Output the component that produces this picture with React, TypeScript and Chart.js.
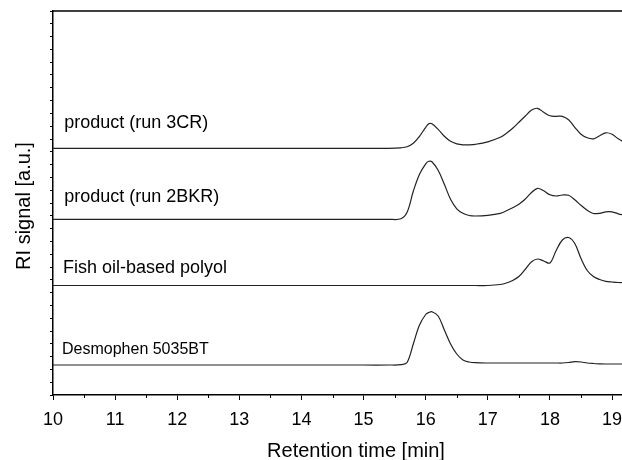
import { useEffect, useRef } from "react";
import { Chart, registerables } from "chart.js";

Chart.register(...registerables);

const FONT = "'Liberation Sans', Arial, Helvetica, sans-serif";

// Retention time grid (min) shared by all chromatograms
const retentionTimes = [
  10, 11, 12, 13, 14, 15, 15.4, 15.6, 15.7, 15.8, 15.9, 16.0, 16.05, 16.1, 16.2,
  16.3, 16.4, 16.5, 16.6, 16.7, 16.8, 17.0, 17.2, 17.3, 17.4, 17.5, 17.6, 17.7,
  17.8, 17.9, 18.0, 18.1, 18.2, 18.3, 18.4, 18.5, 18.6, 18.7, 18.8, 18.9, 19.0,
  19.1, 19.2,
];

// RI signal above each trace's own baseline (a.u.)
const run3CR = [
  0, 0, 0, 0, 0, 0, 0, 0.5, 1.5, 5, 12, 21, 24.5, 24.5, 19, 12, 7, 4.5, 3.5, 3.5,
  4, 6.5, 11, 15, 20, 26, 32, 38, 40, 36, 32.5, 32, 32, 28.5, 21, 14, 10.5, 9.5,
  12.5, 15.5, 14, 9.5, 6,
];
const run2BKR = [
  0, 0, 0, 0, 0, 0, 0, 0.5, 7, 28, 45, 55.5, 58, 57.5, 49, 35, 20, 10.5, 6, 3.8,
  3.3, 4, 6, 8.5, 11.5, 15, 20, 26.5, 31, 28.5, 24.5, 23.3, 24.3, 24, 19.5, 14, 9,
  5.8, 6, 7.5, 7.5, 5.5, 4,
];
const fishOilPolyol = [
  0, 0, 0, 0, 0, 0, 0, 0, 0, 0, 0, 0, 0, 0, 0, 0, 0, 0, 0, 0, 0, 0, 1, 2.5, 5, 9,
  16, 23.5, 26.5, 24.5, 22.5, 35, 45.5, 48, 42, 27, 15, 9, 6, 4.2, 3.5, 3, 3,
];
const desmophen = [
  0, 0, 0, 0, 0, 0, 0, 0.3, 2.5, 21, 40, 50.5, 52.5, 53.3, 49, 35, 21, 11, 5, 3,
  2.3, 2, 2, 2, 2, 2, 2, 2, 2, 2, 2, 2, 2, 2.5, 3.3, 3, 2, 1.5, 1.2, 1, 1, 1, 1,
];

// Vertical stacking offsets of the traces (a.u.)
const traceNames = ["product (run 3CR)", "product (run 2BKR)", "Fish oil-based polyol", "Desmophen 5035BT"];
const traceSignals = [run3CR, run2BKR, fishOilPolyol, desmophen];
const traceBaselines = [246.7, 175.7, 109.5, 30];

// Trace labels: anchor in data units (retention time, signal)
const labelTimes = [10.18, 10.18, 10.16, 10.145];
const labelSignals = [266.7, 193.3, 121.7, 41];
const labelSizes = [18, 18, 18, 16];

const xMajorTicks = [10, 11, 12, 13, 14, 15, 16, 17, 18, 19];
const xMinorTicks = [10.5, 11.5, 12.5, 13.5, 14.5, 15.5, 16.5, 17.5, 18.5];
const xRange = [10, 19.16];
const yRange = [0, 384];
const yTickStep = 12.8;

const decorations = {
  id: "decorations",
  afterDraw(chart: any) {
    const { ctx, chartArea, scales } = chart;
    const xs = scales.x;
    const ys = scales.y;
    ctx.save();
    ctx.strokeStyle = "#000";
    ctx.lineWidth = 1;
    ctx.beginPath();
    for (const v of xMinorTicks) {
      const px = Math.round(xs.getPixelForValue(v)) + 0.5;
      ctx.moveTo(px, chartArea.bottom);
      ctx.lineTo(px, chartArea.bottom + 3);
    }
    ctx.stroke();

    ctx.lineWidth = 1.5;
    ctx.beginPath();
    ctx.moveTo(chartArea.left, chartArea.top);
    ctx.lineTo(chartArea.right, chartArea.top);
    ctx.stroke();

    ctx.fillStyle = "#000";
    ctx.textAlign = "left";
    ctx.textBaseline = "alphabetic";
    traceNames.forEach((name, i) => {
      ctx.font = `${labelSizes[i]}px ${FONT}`;
      ctx.fillText(name, xs.getPixelForValue(labelTimes[i]), ys.getPixelForValue(labelSignals[i]));
    });

    ctx.font = `20px ${FONT}`;
    ctx.textAlign = "center";
    ctx.fillText("Retention time [min]", 356, 456.5);
    ctx.translate(29.5, 206);
    ctx.rotate(-Math.PI / 2);
    ctx.fillText("RI signal [a.u.]", 0, 0);
    ctx.restore();
  },
};

export default function App() {
  const canvasRef = useRef<HTMLCanvasElement | null>(null);

  useEffect(() => {
    if (!canvasRef.current) return;
    const chart = new Chart(canvasRef.current, {
      type: "line",
      data: {
        datasets: traceSignals.map((signal, k) => ({
          label: traceNames[k],
          data: retentionTimes.map((t, i) => ({ x: t, y: traceBaselines[k] + signal[i] })),
          borderColor: "#222",
          borderWidth: 1.2,
          pointRadius: 0,
          fill: false,
          tension: 0.35,
        })),
      },
      options: {
        animation: false,
        responsive: false,
        layout: { padding: { top: 11, left: 0, right: 0, bottom: 0 } },
        plugins: { legend: { display: false }, tooltip: { enabled: false } },
        scales: {
          x: {
            type: "linear",
            min: xRange[0],
            max: xRange[1],
            afterBuildTicks: (scale: any) => {
              scale.ticks = xMajorTicks.map((v) => ({ value: v }));
            },
            afterFit: (scale: any) => {
              scale.height = 65;
              scale.paddingLeft = 0;
              scale.paddingRight = 0;
            },
            grid: { drawOnChartArea: false, drawTicks: true, tickLength: 5, color: "#000", lineWidth: 1 },
            border: { display: true, color: "#000", width: 1.5 },
            ticks: {
              color: "#000",
              font: { family: FONT, size: 18 },
              padding: 9,
              maxRotation: 0,
              autoSkip: false,
            },
          },
          y: {
            type: "linear",
            min: yRange[0],
            max: yRange[1],
            afterFit: (scale: any) => {
              scale.width = 53;
            },
            grid: { drawOnChartArea: false, drawTicks: true, tickLength: 3, color: "#000", lineWidth: 1 },
            border: { display: true, color: "#000", width: 1.5 },
            ticks: { display: false, stepSize: yTickStep },
          },
        },
      },
      plugins: [decorations],
    });
    return () => chart.destroy();
  }, []);

  return (
    <div style={{ position: "absolute", left: 0, top: 0, width: 622, height: 460, background: "#fff" }}>
      <canvas ref={canvasRef} width={622} height={460} style={{ display: "block" }} />
    </div>
  );
}
